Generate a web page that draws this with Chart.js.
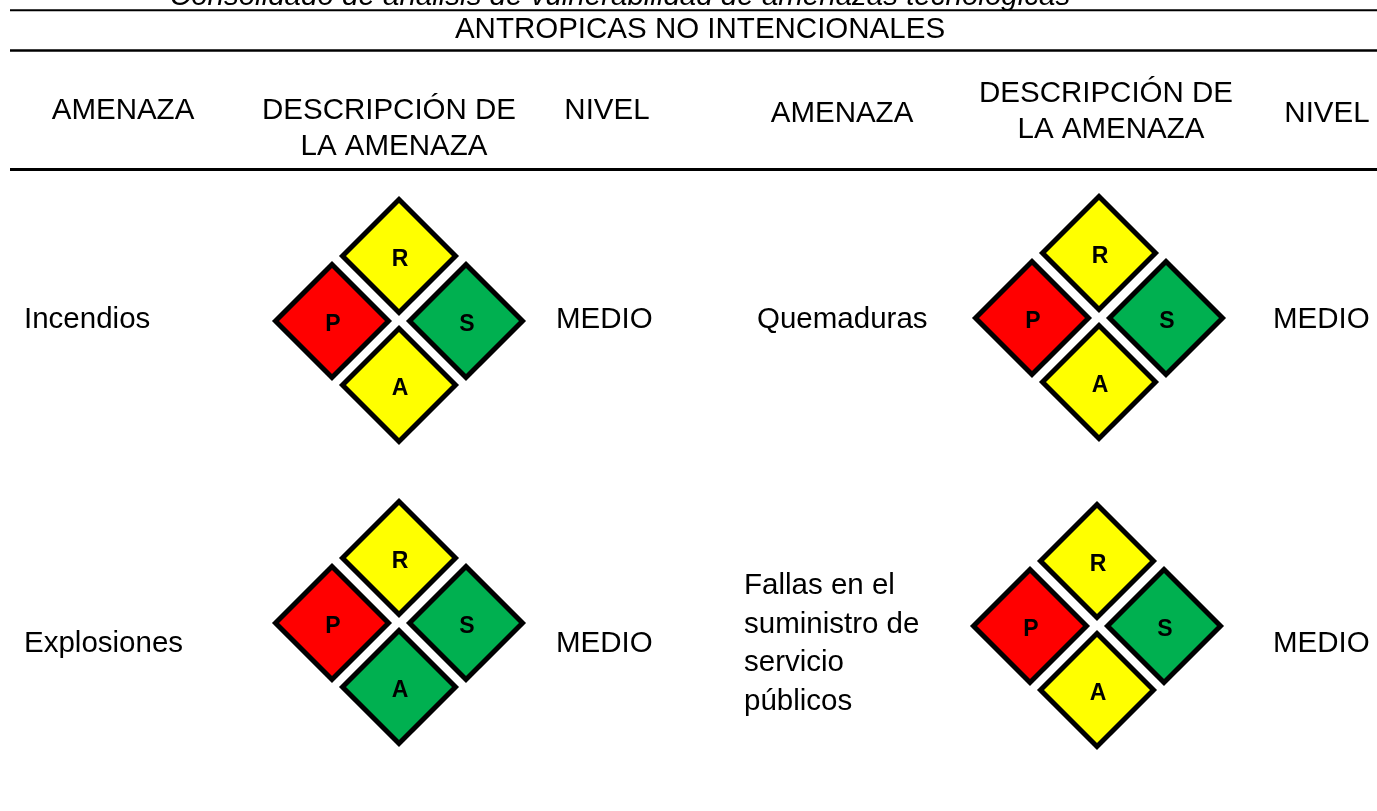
<!DOCTYPE html>
<html>
<head>
<meta charset="utf-8">
<script src="https://cdn.jsdelivr.net/npm/chart.js@4/dist/chart.umd.min.js"></script>
<style>
  html, body { margin: 0; padding: 0; background: #ffffff; overflow: hidden; }
  #wrap { width: 1377px; height: 811px; }
</style>
</head>
<body>
<div id="wrap"><canvas id="c" width="1377" height="811"></canvas></div>
<script>
// ---------- data ----------
const caption = 'Consolidado de análisis de vulnerabilidad de amenazas tecnológicas';
const groupTitle = 'ANTROPICAS NO INTENCIONALES';
const headerThreat = 'AMENAZA';
const headerDesc = ['DESCRIPCIÓN DE', 'LA AMENAZA'];
const headerLevel = 'NIVEL';
const threats = ['Incendios', 'Quemaduras', 'Explosiones', 'Fallas en el\nsuministro de\nservicio\npúblicos'];
const levels = ['MEDIO', 'MEDIO', 'MEDIO', 'MEDIO'];
const factors = ['R', 'P', 'S', 'A'];
const ratingR = ['MEDIO', 'MEDIO', 'MEDIO', 'MEDIO'];
const ratingP = ['ALTO', 'ALTO', 'ALTO', 'ALTO'];
const ratingS = ['BAJO', 'BAJO', 'BAJO', 'BAJO'];
const ratingA = ['MEDIO', 'MEDIO', 'BAJO', 'MEDIO'];

// ---------- layout & style ----------
const W = 1377, H = 811;
const FONT = "'Liberation Sans', Arial, Helvetica, sans-serif";
const FS = 29.5;
const ratingColor = { ALTO: '#FF0000', MEDIO: '#FFFF00', BAJO: '#00B050' };
const clusterCenter = [[399, 321], [1099, 318], [399, 623], [1097, 626]];
const factorOffset = { R: [0, -65], P: [-67, 0], S: [67, 0], A: [0, 64] };
const threatPos = [[24, 328], [757, 328], [24, 652], [744, 594]];
const levelPos = [[556, 328], [1273, 328], [556, 652], [1273, 652]];
const lineStep = 38.5;

const ratingsByFactor = { R: ratingR, P: ratingP, S: ratingS, A: ratingA };

const points = [];
const colors = [];
const letters = [];
threats.forEach((t, i) => {
  factors.forEach(f => {
    const off = factorOffset[f];
    points.push({ x: clusterCenter[i][0] + off[0], y: clusterCenter[i][1] + off[1] });
    colors.push(ratingColor[ratingsByFactor[f][i]]);
    letters.push(f);
  });
});

const tablePlugin = {
  id: 'tablePlugin',
  beforeDraw(chart) {
    const ctx = chart.ctx;
    ctx.save();
    ctx.fillStyle = '#ffffff';
    ctx.fillRect(0, 0, W, H);
    ctx.strokeStyle = '#000000';
    // rules
    const rules = [[10.3, 2], [50.5, 2.6], [169.5, 3]];
    rules.forEach(([y, w]) => {
      ctx.lineWidth = w;
      ctx.beginPath();
      ctx.moveTo(10, y);
      ctx.lineTo(W, y);
      ctx.stroke();
    });
    ctx.fillStyle = '#000000';
    // caption (partly cut at top)
    ctx.font = 'italic ' + FS + 'px ' + FONT;
    ctx.textAlign = 'center';
    ctx.textBaseline = 'alphabetic';
    ctx.fillText(caption, 620, 5);
    ctx.font = FS + 'px ' + FONT;
    ctx.fillText(groupTitle, 700, 38);
    // headers left
    ctx.fillText(headerThreat, 123, 119);
    ctx.fillText(headerDesc[0], 389, 119);
    ctx.fillText(headerDesc[1], 394, 155);
    ctx.fillText(headerLevel, 607, 119);
    // headers right
    ctx.fillText(headerThreat, 842, 122);
    ctx.fillText(headerDesc[0], 1106, 102);
    ctx.fillText(headerDesc[1], 1111, 138);
    ctx.fillText(headerLevel, 1327, 122);
    // row labels
    ctx.textAlign = 'left';
    threats.forEach((t, i) => {
      t.split('\n').forEach((ln, k) => {
        ctx.fillText(ln, threatPos[i][0], threatPos[i][1] + k * lineStep);
      });
      ctx.fillText(levels[i], levelPos[i][0], levelPos[i][1]);
    });
    ctx.restore();
  },
  afterDatasetsDraw(chart) {
    const ctx = chart.ctx;
    const meta = chart.getDatasetMeta(0);
    ctx.save();
    ctx.fillStyle = '#000000';
    ctx.font = 'bold 23px ' + FONT;
    ctx.textAlign = 'center';
    ctx.textBaseline = 'alphabetic';
    meta.data.forEach((el, k) => {
      ctx.fillText(letters[k], el.x + 1, el.y + 10);
    });
    ctx.restore();
  }
};

new Chart(document.getElementById('c'), {
  type: 'scatter',
  data: {
    datasets: [{
      data: points,
      pointStyle: 'rectRot',
      pointRadius: 56.5,
      pointHoverRadius: 56.5,
      pointBackgroundColor: colors,
      pointBorderColor: '#000000',
      pointBorderWidth: 5,
      showLine: false,
      clip: false
    }]
  },
  options: {
    responsive: false,
    devicePixelRatio: 1,
    animation: false,
    events: [],
    layout: { padding: 0, autoPadding: false },
    scales: {
      x: { type: 'linear', min: 0, max: W, display: false },
      y: { type: 'linear', min: 0, max: H, reverse: true, display: false }
    },
    plugins: { legend: { display: false }, tooltip: { enabled: false }, title: { display: false } }
  },
  plugins: [tablePlugin]
});
</script>
</body>
</html>
